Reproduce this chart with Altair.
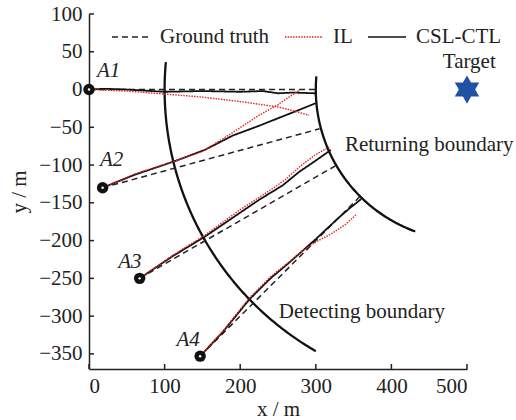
import altair as alt
import pandas as pd

# ---------------- data ----------------
SERIES = ["Ground truth", "IL", "CSL-CTL"]
AGENTS = ["A1", "A2", "A3", "A4"]

start_x = [0, 18, 67, 147]
start_y = [0, -130, -250, -353]
label_x = [26, 30, 54, 131]
label_y = [24, -93, -228, -332]

gt_x = {"A1": [0, 300], "A2": [18, 305], "A3": [67, 326], "A4": [147, 358]}
gt_y = {"A1": [0, 0], "A2": [-130, -52], "A3": [-250, -101], "A4": [-353, -142]}

il_x = {
    "A1": [0, 50, 100, 150, 200, 250, 270, 291],
    "A2": [18, 60, 113, 150, 190, 225, 250, 278],
    "A3": [67, 110, 153, 200, 240, 260, 280, 300, 318],
    "A4": [147, 177, 212, 240, 265, 283, 300, 322, 340, 353],
}
il_y = {
    "A1": [0, -2, -6, -10, -16, -23, -28, -34],
    "A2": [-130, -112, -95, -82, -57, -34, -20, -1],
    "A3": [-250, -220, -193, -159, -133, -119, -101, -86, -76],
    "A4": [-353, -320, -276, -248, -228, -213, -202, -190, -178, -166],
}
csl_x = {
    "A1": [0, 20, 50, 100, 150, 200, 230, 250, 270, 300],
    "A2": [18, 60, 113, 153, 190, 225, 250, 278, 300],
    "A3": [67, 110, 153, 200, 225, 256, 278, 300, 320],
    "A4": [147, 177, 212, 240, 265, 300, 330, 345, 360],
}
csl_y = {
    "A1": [0, 1, 0, -3, -2, -3, -2, -5, -4, -5],
    "A2": [-130, -113, -95, -80, -61, -48, -38, -27, -18],
    "A3": [-250, -221, -195, -163, -146, -127, -109, -94, -80],
    "A4": [-353, -321, -278, -250, -229, -198, -170, -157, -145],
}

target_x = [500]
target_y = [0]

# boundaries: circles around the target
bound_names = ["Returning boundary", "Detecting boundary"]
bound_radius = [200, 400]
bound_deg_from = [175, 174.8]
bound_deg_to = [250, 240]

notes = ["Target", "Returning boundary", "Detecting boundary"]
note_x = [503, 450, 361]
note_y = [37, -73, -295]

XT = [0, 100, 200, 300, 400, 500]
YT = [-350, -300, -250, -200, -150, -100, -50, 0, 50, 100]

# ---------------- tables ----------------
rows = []
for s, xs_, ys_ in [("Ground truth", gt_x, gt_y), ("IL", il_x, il_y), ("CSL-CTL", csl_x, csl_y)]:
    for a in AGENTS:
        for i, (xv, yv) in enumerate(zip(xs_[a], ys_[a])):
            rows.append({"series": s, "agent": a, "i": i, "x": xv, "y": yv})
traj = pd.DataFrame(rows)

starts = pd.DataFrame({"agent": AGENTS, "x": start_x, "y": start_y,
                       "lx": label_x, "ly": label_y})
note_df = pd.DataFrame({"t": notes, "x": note_x, "y": note_y})
target_df = pd.DataFrame({"x": target_x, "y": target_y})
xt_df = pd.DataFrame({"v": XT})
yt_df = pd.DataFrame({"v": YT})

brow = []
for n, r, d0, d1 in zip(bound_names, bound_radius, bound_deg_from, bound_deg_to):
    brow.append({"name": n, "r": r, "d0": d0, "d1": d1})
bounds = pd.DataFrame(brow)

FONT = "Liberation Serif"
FS = 21
XS = alt.Scale(domain=[0, 500], nice=False, zero=False)
YS = alt.Scale(domain=[-370, 100], nice=False, zero=False)
W, H = 378, 355

def X(field="x"):
    return alt.X(f"{field}:Q", scale=XS, axis=None)

def Y(field="y"):
    return alt.Y(f"{field}:Q", scale=YS, axis=None)

# boundary arcs (computed by Vega from centre + radius)
arcs = (
    alt.Chart(bounds)
    .transform_calculate(n="ceil((datum.d1 - datum.d0) / 0.5)")
    .transform_calculate(seq="sequence(0, datum.n + 1)")
    .transform_flatten(["seq"])
    .transform_calculate(
        deg="min(datum.d0 + datum.seq * 0.5, datum.d1)",
        bx=f"{target_x[0]} + datum.r * cos(datum.deg * PI / 180)",
        by=f"{target_y[0]} + datum.r * sin(datum.deg * PI / 180)",
    )
    .mark_line(color="#111", strokeWidth=2.3)
    .encode(x=X("bx"), y=Y("by"), detail="name:N", order="deg:Q")
)

leg = alt.Legend(
    orient="none", legendX=22, legendY=3, direction="horizontal", title=None,
    symbolType="stroke", symbolSize=1450, symbolStrokeWidth=1.5,
    labelFont=FONT, labelFontSize=FS, labelColor="#222", labelOffset=9,
    columnPadding=11, padding=0,
)

def traj_layer(series, width):
    return (
        alt.Chart(traj)
        .transform_filter(alt.datum.series == series)
        .mark_line(strokeWidth=width)
        .encode(
            x=X(), y=Y(),
            detail="agent:N",
            order="i:Q",
            color=alt.Color("series:N", scale=alt.Scale(domain=SERIES, range=["#222", "#e8231f", "#111"]), legend=leg),
            strokeDash=alt.StrokeDash("series:N", scale=alt.Scale(domain=SERIES, range=[[6, 4], [1.5, 1.2], [1, 0]]), legend=leg),
        )
    )

gt_layer = traj_layer("Ground truth", 1.5)
csl_layer = traj_layer("CSL-CTL", 1.8)
il_layer = traj_layer("IL", 1.4)

# main axes (labels + domain line)
axis_main = alt.Chart(starts).mark_point(opacity=0).encode(
    x=alt.X("x:Q", scale=XS, axis=alt.Axis(
        values=XT, ticks=False, domain=True, grid=False,
        labelPadding=6, title="x / m", titlePadding=2, format="d")),
    y=alt.Y("y:Q", scale=YS, axis=alt.Axis(
        values=YT, ticks=False, domain=True,
        grid=False, labelPadding=7, title="y / m", titlePadding=9, format="d")),
)
# inward ticks at the tick values
xticks = alt.Chart(xt_df).mark_rule(color="#222", strokeWidth=1.5).encode(
    x=alt.X("v:Q", scale=XS, axis=None), y=alt.value(H), y2=alt.value(H - 5))
yticks = alt.Chart(yt_df).mark_rule(color="#222", strokeWidth=1.5).encode(
    y=alt.Y("v:Q", scale=YS, axis=None), x=alt.value(0), x2=alt.value(5))

dots_outer = alt.Chart(starts).mark_circle(color="#111", size=130, opacity=1).encode(x=X(), y=Y())
dots_inner = alt.Chart(starts).mark_circle(color="white", size=6, opacity=1).encode(x=X(), y=Y())

agent_text = alt.Chart(starts).mark_text(
    font=FONT, fontSize=FS, fontStyle="italic", color="#222", align="center", baseline="middle"
).encode(x=X("lx"), y=Y("ly"), text="agent:N")

note_text = alt.Chart(note_df).mark_text(
    font=FONT, fontSize=FS, color="#222", align="center", baseline="middle"
).encode(x=X(), y=Y(), text="t:N")

star_path = ("M0,-1 L0.2887,-0.5 L0.866,-0.5 L0.577,0 L0.866,0.5 L0.2887,0.5 L0,1 "
             "L-0.2887,0.5 L-0.866,0.5 L-0.577,0 L-0.866,-0.5 L-0.2887,-0.5 Z")
star = alt.Chart(target_df).mark_point(
    shape=star_path, filled=True, size=800, color="#1f52a5", opacity=1
).encode(x=X(), y=Y())

chart = (
    alt.layer(axis_main, xticks, yticks, arcs, gt_layer, csl_layer, il_layer,
              dots_outer, dots_inner, agent_text, note_text, star)
    .resolve_axis(x="independent", y="independent")
    .properties(width=W, height=H, autosize=alt.AutoSizeParams(type="none"),
                padding={"left": 89, "top": 14, "right": 49, "bottom": 51})
    .configure_view(stroke=None)
    .configure_axis(labelFont=FONT, labelFontSize=FS, labelColor="#222", titleFont=FONT,
                    titleFontSize=FS, titleColor="#222", titleFontWeight="normal",
                    domainColor="#222", domainWidth=1.5)
)

chart.save("out.html", embed_options={"renderer": "svg", "actions": False})
